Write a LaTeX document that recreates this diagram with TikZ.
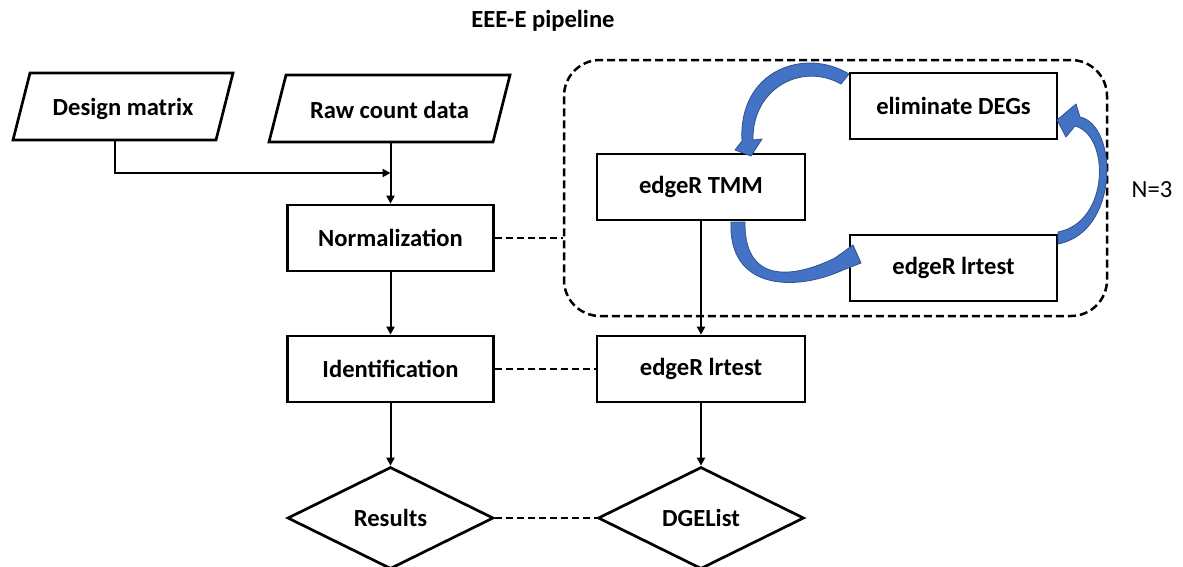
\documentclass[tikz,border=0pt]{standalone}
\usepackage{fontspec}
\setmainfont{Carlito}
\usetikzlibrary{shapes.geometric,arrows.meta,calc}
\definecolor{arrowblue}{HTML}{4472C4}
\definecolor{arrowedge}{HTML}{2F528F}
\tikzset{
  every node/.style={font=\fontsize{24.6}{28}\selectfont\bfseries, text=black},
  stepbox/.style={draw=black, line width=2.7pt, fill=white, rectangle, minimum height=66, inner sep=0pt},
  dataframe/.style={draw=black, line width=2.7pt, fill=white, line join=miter},
  outcome/.style={draw=black, line width=2.7pt, fill=white, diamond, aspect=2,
     minimum width=206, minimum height=102, inner sep=0pt},
  flow/.style={line width=2pt, -{Triangle[length=8pt,width=8pt]}},
  link/.style={line width=2pt, dash pattern=on 7pt off 4pt},
  loopframe/.style={draw=black, line width=2.5pt, dash pattern=on 8pt off 4pt,
     rounded corners=36, minimum width=543, minimum height=256, inner sep=0pt},
  bluearrow/.style={fill=arrowblue, draw=arrowedge, line width=0.8pt, line join=round},
}
\begin{document}
\begin{tikzpicture}[x=1pt, y=-1pt]
\useasboundingbox (0,0) rectangle (1183,566);

% title
\node (title) at (543,21) {EEE-E pipeline};

% input parallelograms
\coordinate (dm-bl) at (13,140);  \coordinate (dm-tl) at (30,73);
\coordinate (dm-tr) at (233,73);  \coordinate (dm-br) at (216,140);
\draw[dataframe] (dm-bl) -- (dm-tl) -- (dm-tr) -- (dm-br) -- cycle;
\node (dm) at (123,109) {Design matrix};

\coordinate (raw-bl) at (269,142); \coordinate (raw-tl) at (286,75);
\coordinate (raw-tr) at (510,75);  \coordinate (raw-br) at (493,142);
\draw[dataframe] (raw-bl) -- (raw-tl) -- (raw-tr) -- (raw-br) -- cycle;
\node (raw) at (389.5,110) {Raw count data};

% main column
\node[stepbox, minimum width=206] (norm) at (390.5,238) {Normalization};
\node[stepbox, minimum width=206] (ident) at (390.5,369) {Identification};
\node[outcome] (res) at (390.5,518) {Results};

% iterative normalisation loop
\node[loopframe] (loop) at (835.5,188) {};
\node[stepbox, minimum width=208] (tmm) at (701,187) {edgeR TMM};
\node[stepbox, minimum width=207] (elim) at (953.5,106) {eliminate DEGs};
\node[stepbox, minimum width=207] (lr1) at (953.5,268) {edgeR lrtest};
\node[font=\fontsize{24.6}{28}\selectfont] (iter) at (1152,190) {N=3};

% second column
\node[stepbox, minimum width=208] (lr2) at (701,369) {edgeR lrtest};
\node[outcome] (dge) at (701,518) {DGEList};

% flow connectors
\coordinate (dmb) at ($(dm-bl)!.5!(dm-br)$);
\coordinate (rawb) at ($(raw-bl)!.5!(raw-br)$);
\coordinate (join) at (norm.north |- 0,173);
\draw[flow] (dmb) |- (join);
\draw[flow] (norm.north |- rawb) -- (norm.north);
\draw[flow] (norm.south) -- (ident.north);
\draw[flow] (ident.south) -- (res.north);
\draw[flow] (tmm.south) -- (lr2.north);
\draw[flow] (lr2.south) -- (dge.north);

% dashed links
\draw[link] (norm.east) -- (norm.east -| loop.west);
\draw[link] (ident.east) -- (lr2.west);
\draw[link] (res.east) -- (dge.west);

% curved block arrows of the loop
\fill[bluearrow] (849,74) .. controls (805,47) and (738,70) .. (742,141)
  -- (735,150) -- (751,156) -- (762,139) -- (753,140)
  .. controls (752,88) and (802,62) .. (841,84) -- cycle;
\fill[bluearrow] (731,222) .. controls (728,290) and (795,292) .. (843,270)
  -- (861,263) -- (853,245) -- (835,258)
  .. controls (790,280) and (744,282) .. (745,222) -- cycle;
\fill[bluearrow] (1058,244) .. controls (1120,232) and (1118,125) .. (1080,117)
  -- (1076,104) -- (1057,120) -- (1066,137) -- (1075,126)
  .. controls (1110,135) and (1110,222) .. (1058,232) -- cycle;
\end{tikzpicture}
\end{document}
